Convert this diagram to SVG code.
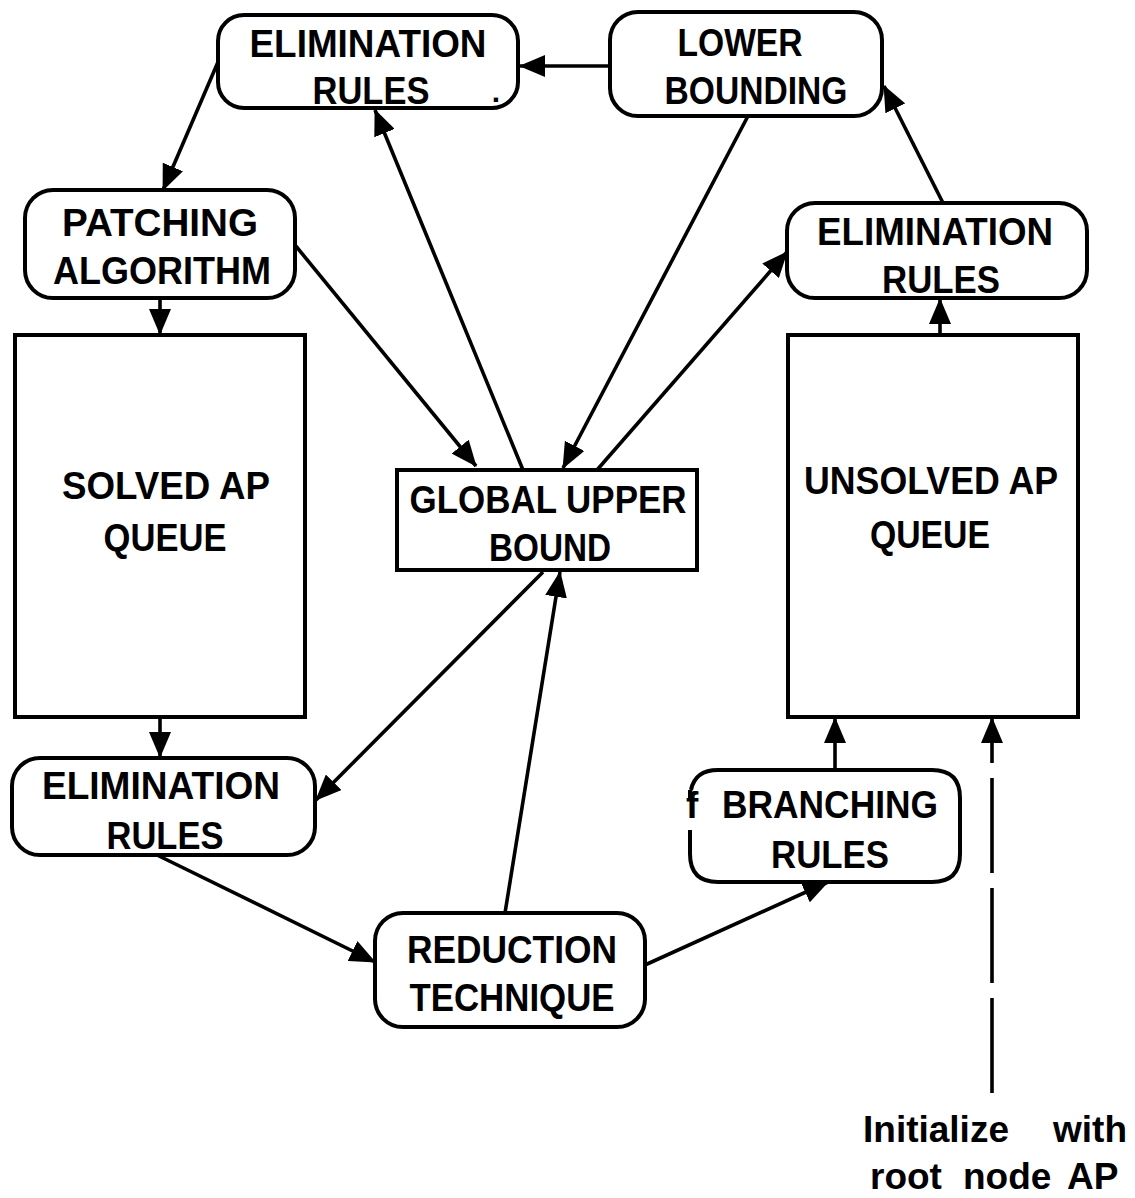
<svg xmlns="http://www.w3.org/2000/svg" width="1135" height="1198" viewBox="0 0 1135 1198">
<defs>
<style>
.box{fill:#fff;stroke:#000;stroke-width:4}
.t{font-family:"Liberation Sans",Arial,sans-serif;font-weight:bold;font-size:39px;fill:#000;text-anchor:middle}
.ts{font-family:"Liberation Sans",Arial,sans-serif;font-weight:bold;font-size:37px;fill:#000}
.c{fill:none;stroke:#000;stroke-width:3.6;marker-end:url(#ah)}
.d{stroke-dasharray:95 15}
</style>
<marker id="ah" markerUnits="userSpaceOnUse" viewBox="0 0 26 22" markerWidth="26" markerHeight="22" refX="25" refY="11" orient="auto">
<path d="M0,0 L26,11 L0,22 z" fill="#000"/>
</marker>
</defs>
<rect width="1135" height="1198" fill="#fff"/>
<g id="connectors">
<path class="c" d="M610,66 L520,66"/>
<path class="c" d="M218,62 L163,190"/>
<path class="c" d="M160,298 L160,334"/>
<path class="c" d="M160,717 L160,757"/>
<path class="c" d="M157,855 L375,962"/>
<path class="c" d="M505,913 L560,572"/>
<path class="c" d="M645,965 L828,882"/>
<path class="c" d="M835,770 L835,718"/>
<path class="c d" d="M992,1093 L992,718"/>
<path class="c" d="M940,335 L940,299"/>
<path class="c" d="M943,203 L884,86"/>
<path class="c" d="M597,470 L787,252"/>
<path class="c" d="M748,116 L563,468"/>
<path class="c" d="M523,470 L375,110"/>
<path class="c" d="M295,245 L476,466"/>
<path class="c" d="M543,572 L316,800"/>
</g>
<g id="elim-top">
<rect class="box" x="218" y="15" width="300" height="93" rx="26"/>
<text class="t" x="368" y="57" textLength="237" lengthAdjust="spacingAndGlyphs">ELIMINATION</text>
<text class="t" x="371" y="104" textLength="117" lengthAdjust="spacingAndGlyphs">RULES</text>
<text class="t" x="496" y="102" style="font-size:30px">.</text>
</g>
<g id="lower-bounding">
<rect class="box" x="610" y="12" width="272" height="104" rx="28"/>
<text class="t" x="740" y="56" textLength="125" lengthAdjust="spacingAndGlyphs">LOWER</text>
<text class="t" x="756" y="104" textLength="183" lengthAdjust="spacingAndGlyphs">BOUNDING</text>
</g>
<g id="patching">
<rect class="box" x="25" y="190" width="270" height="108" rx="28"/>
<text class="t" x="160" y="236" textLength="196" lengthAdjust="spacingAndGlyphs">PATCHING</text>
<text class="t" x="162" y="284" textLength="218" lengthAdjust="spacingAndGlyphs">ALGORITHM</text>
</g>
<g id="solved-queue">
<rect class="box" x="15" y="335" width="290" height="382"/>
<text class="t" x="166" y="499" textLength="208" lengthAdjust="spacingAndGlyphs">SOLVED AP</text>
<text class="t" x="165" y="551" textLength="123" lengthAdjust="spacingAndGlyphs">QUEUE</text>
</g>
<g id="elim-bottom-left">
<rect class="box" x="12" y="758" width="303" height="97" rx="28"/>
<text class="t" x="161" y="799" textLength="238" lengthAdjust="spacingAndGlyphs">ELIMINATION</text>
<text class="t" x="165" y="849" textLength="117" lengthAdjust="spacingAndGlyphs">RULES</text>
</g>
<g id="global-upper-bound">
<rect class="box" x="397" y="470" width="300" height="100"/>
<text class="t" x="548" y="513" textLength="277" lengthAdjust="spacingAndGlyphs">GLOBAL UPPER</text>
<text class="t" x="550" y="561" textLength="122" lengthAdjust="spacingAndGlyphs">BOUND</text>
</g>
<g id="unsolved-queue">
<rect class="box" x="788" y="335" width="290" height="382"/>
<text class="t" x="931" y="494" textLength="254" lengthAdjust="spacingAndGlyphs">UNSOLVED AP</text>
<text class="t" x="930" y="548" textLength="120" lengthAdjust="spacingAndGlyphs">QUEUE</text>
</g>
<g id="elim-right">
<rect class="box" x="787" y="203" width="300" height="95" rx="28"/>
<text class="t" x="935" y="245" textLength="236" lengthAdjust="spacingAndGlyphs">ELIMINATION</text>
<text class="t" x="941" y="293" textLength="118" lengthAdjust="spacingAndGlyphs">RULES</text>
</g>
<g id="branching">
<path class="box" d="M690,790 L690,798 M690,830 L690,854 Q690,882 718,882 L932,882 Q960,882 960,854 L960,798 Q960,770 932,770 L718,770 Q695,770 691,790"/>
<text class="ts" x="686" y="818">f</text>
<text class="t" x="830" y="818" textLength="216" lengthAdjust="spacingAndGlyphs">BRANCHING</text>
<text class="t" x="830" y="868" textLength="118" lengthAdjust="spacingAndGlyphs">RULES</text>
</g>
<g id="reduction">
<rect class="box" x="375" y="913" width="270" height="114" rx="28"/>
<text class="t" x="512" y="963" textLength="210" lengthAdjust="spacingAndGlyphs">REDUCTION</text>
<text class="t" x="512" y="1011" textLength="205" lengthAdjust="spacingAndGlyphs">TECHNIQUE</text>
</g>
<g id="init-label">
<text class="ts" y="1142"><tspan x="863">Initialize</tspan><tspan x="1053">with</tspan></text>
<text class="ts" y="1189"><tspan x="870">root</tspan><tspan x="963">node</tspan><tspan x="1067">AP</tspan></text>
</g>
</svg>
